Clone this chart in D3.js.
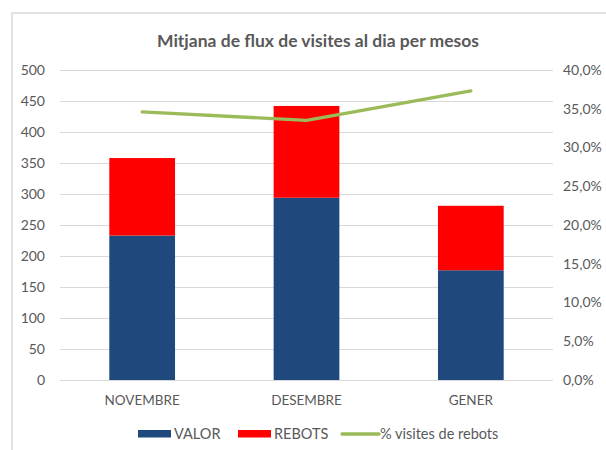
<html>

<head>
  <script src="https://d3js.org/d3.v7.min.js"></script>
  <style>
    body {
      margin: 0;
      background: #fff;
    }

    text {
      font-family: Lato, "Open Sans", sans-serif;
      fill: #595959;
    }

    .gridlines line {
      stroke: #d9d9d9;
    }

    .gridlines .domain {
      stroke: none;
    }
  </style>
</head>

<body>
  <svg id="chart" width="606" height="450"></svg>

  <script>
    const months = ["NOVEMBRE", "DESEMBRE", "GENER"];
    const valor = [233, 294, 177];
    const rebots = [125, 148, 104];
    const pctRebots = [0.346, 0.335, 0.373];
    const leftTicks = [0, 50, 100, 150, 200, 250, 300, 350, 400, 450, 500];
    const rightTicks = [0, 0.05, 0.10, 0.15, 0.20, 0.25, 0.30, 0.35, 0.40];

    const data = months.map((m, i) => ({ month: m, VALOR: valor[i], REBOTS: rebots[i], pct: pctRebots[i] }));

    const svg = d3.select("svg#chart");
    const margin = { top: 70, right: 53, bottom: 70, left: 60 };
    const plotRight = 553, plotBottom = 380;

    // chart frame (cut off at right and bottom)
    svg.append("path")
      .attr("d", "M12,450 V13 H606")
      .attr("fill", "none")
      .attr("stroke", "#d9d9d9")
      .attr("stroke-width", 1.5);

    svg.append("text")
      .attr("x", 318)
      .attr("y", 47)
      .attr("text-anchor", "middle")
      .style("font-size", "17.5px")
      .style("font-weight", "bold")
      .text("Mitjana de flux de visites al dia per mesos");

    const xScale = d3.scaleBand()
      .domain(months)
      .range([margin.left, plotRight])
      .padding(0);

    const yScale = d3.scaleLinear()
      .domain([0, 500])
      .range([plotBottom, margin.top]);

    const y2Scale = d3.scaleLinear()
      .domain([0, 0.4])
      .range([plotBottom, margin.top]);

    let grid = d3.axisLeft(yScale)
      .tickValues(leftTicks)
      .tickSize(-(plotRight - margin.left))
      .tickFormat("");
    svg.append("g")
      .attr("class", "gridlines")
      .attr("transform", `translate(${margin.left},0)`)
      .call(grid);

    let leftAxis = d3.axisLeft(yScale)
      .tickValues(leftTicks)
      .tickSize(0)
      .tickPadding(15);
    svg.append("g")
      .attr("transform", `translate(${margin.left},0)`)
      .call(leftAxis)
      .call(g => g.select(".domain").remove())
      .selectAll("text")
      .style("font-size", "14px")
      .style("fill", "#595959");

    let rightAxis = d3.axisRight(y2Scale)
      .tickValues(rightTicks)
      .tickSize(0)
      .tickPadding(10)
      .tickFormat(d => d3.format(".1f")(d * 100).replace(".", ",") + "%");
    svg.append("g")
      .attr("transform", `translate(${plotRight},0)`)
      .call(rightAxis)
      .call(g => g.select(".domain").remove())
      .selectAll("text")
      .style("font-size", "14px")
      .style("fill", "#595959");

    const stack = d3.stack().keys(["VALOR", "REBOTS"]);
    const stackedData = stack(data);
    const color = d3.scaleOrdinal()
      .domain(["VALOR", "REBOTS"])
      .range(["#1f497d", "#ff0000"]);

    const barW = xScale.bandwidth() * 0.4;

    svg.selectAll(".stack")
      .data(stackedData)
      .enter().append("g")
      .attr("fill", d => color(d.key))
      .selectAll("rect")
      .data(d => d)
      .enter().append("rect")
      .attr("x", d => xScale(d.data.month) + (xScale.bandwidth() - barW) / 2)
      .attr("y", d => yScale(d[1]))
      .attr("height", d => yScale(d[0]) - yScale(d[1]))
      .attr("width", barW);

    // baseline
    svg.append("line")
      .attr("x1", margin.left).attr("x2", plotRight)
      .attr("y1", plotBottom + 0.5).attr("y2", plotBottom + 0.5)
      .attr("stroke", "#d9d9d9");

    const line = d3.line()
      .x(d => xScale(d.month) + xScale.bandwidth() / 2)
      .y(d => y2Scale(d.pct));

    svg.append("path")
      .datum(data)
      .attr("d", line)
      .attr("fill", "none")
      .attr("stroke", "#9bbb59")
      .attr("stroke-width", 3.3)
      .attr("stroke-linejoin", "round")
      .attr("stroke-linecap", "round");

    svg.append("g")
      .selectAll("text")
      .data(months)
      .enter().append("text")
      .attr("x", d => xScale(d) + xScale.bandwidth() / 2)
      .attr("y", 405)
      .attr("text-anchor", "middle")
      .style("font-size", "13.5px")
      .text(d => d);

    const legendData = [
      { label: "VALOR", color: "#1f497d", x: 138, type: "rect" },
      { label: "REBOTS", color: "#ff0000", x: 238, type: "rect" },
      { label: "% visites de rebots", color: "#9bbb59", x: 342, type: "line" }
    ];

    const legend = svg.append("g")
      .selectAll("g")
      .data(legendData)
      .enter().append("g")
      .attr("transform", d => `translate(${d.x},434)`);

    legend.filter(d => d.type === "rect").append("rect")
      .attr("x", 0).attr("y", -4)
      .attr("width", 33).attr("height", 7.5)
      .attr("fill", d => d.color);

    legend.filter(d => d.type === "line").append("line")
      .attr("x1", 0).attr("x2", 37)
      .attr("y1", 0).attr("y2", 0)
      .attr("stroke", d => d.color)
      .attr("stroke-width", 3.3)
      .attr("stroke-linecap", "round");

    legend.filter(d => d.type === "rect").append("text")
      .attr("x", 36)
      .attr("y", 5)
      .style("font-size", "14.5px")
      .text(d => d.label);

    legend.filter(d => d.type === "line").append("text")
      .attr("x", 38)
      .attr("y", 5)
      .style("font-size", "14.5px")
      .text(d => d.label);
  </script>
</body>

</html>
